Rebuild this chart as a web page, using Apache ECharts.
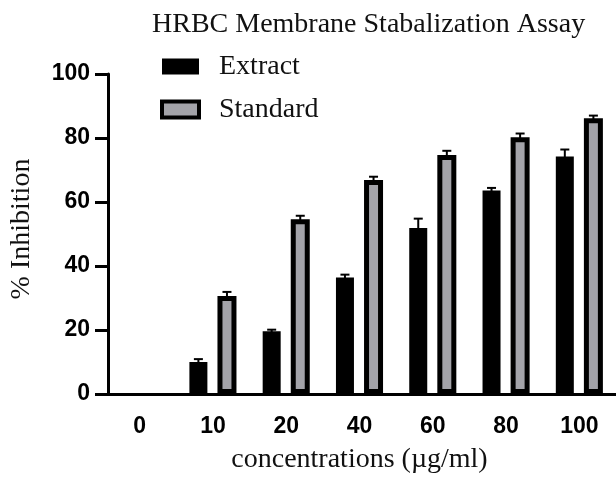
<!DOCTYPE html>
<html>
<head>
<meta charset="utf-8">
<script src="https://cdn.jsdelivr.net/npm/echarts@6/dist/echarts.min.js"></script>
<style>
  html, body { margin: 0; padding: 0; background: #fff; }
  #chart { width: 616px; height: 479px; }
</style>
</head>
<body>
<div id="chart"></div>
<script>
// data
var categories = ['0', '10', '20', '40', '60', '80', '100'];
var extract = [0, 10.0, 19.6, 36.4, 51.9, 63.6, 74.2];
var extractErr = [0, 0.9, 0.5, 0.9, 2.9, 0.8, 2.2];
var standard = [0, 30.6, 54.6, 66.9, 74.7, 80.2, 86.2];
var standardErr = [0, 1.3, 1.1, 1.0, 1.3, 1.2, 0.8];
var yTicks = [0, 20, 40, 60, 80, 100];

var chartDom = document.getElementById('chart');
var myChart = echarts.init(chartDom);

// bar geometry (px)
var extractWidth = 18;
var standardWidth = 19;
var barGap = 0.56;
var totalW = extractWidth * (1 + barGap) + standardWidth;
var extractOffset = -totalW / 2 + extractWidth / 2;
var standardOffset = -totalW / 2 + extractWidth * (1 + barGap) + standardWidth / 2;

function errorSeries(name, values, errs, dx) {
  return {
    name: name,
    type: 'custom',
    z: 1,
    silent: true,
    encode: { x: 0, y: 1 },
    data: values.map(function (v, i) { return [i, v, errs[i]]; }),
    renderItem: function (params, api) {
      var err = api.value(2);
      if (!err) return null;
      var p0 = api.coord([api.value(0), api.value(1)]);
      var p1 = api.coord([api.value(0), api.value(1) + err]);
      var x = p0[0] + dx;
      var half = 4.5;
      return {
        type: 'group',
        children: [
          { type: 'line', shape: { x1: x, y1: p0[1] + 3, x2: x, y2: p1[1] }, style: { stroke: '#000', lineWidth: 2 } },
          { type: 'line', shape: { x1: x - half, y1: p1[1], x2: x + half, y2: p1[1] }, style: { stroke: '#000', lineWidth: 2 } }
        ]
      };
    }
  };
}

var option = {
  backgroundColor: '#fff',
  animation: false,
  title: {
    text: 'HRBC Membrane Stabalization Assay',
    left: 147,
    top: 6,
    textStyle: { fontFamily: 'Liberation Serif', fontSize: 28, fontWeight: 'normal', color: '#111' }
  },
  legend: {
    orient: 'vertical',
    left: 155,
    top: 47,
    itemWidth: 37,
    itemHeight: 16,
    itemGap: 14,
    textStyle: { fontFamily: 'Liberation Serif', fontSize: 28, color: '#111', lineHeight: 29, padding: [0, 0, 0, 15] },
    data: [
      { name: 'Extract', icon: 'rect', itemStyle: { color: '#000', borderWidth: 0 } },
      { name: 'Standard', icon: 'rect', itemStyle: { color: '#a3a3a9', borderColor: '#000', borderWidth: 4 } }
    ]
  },
  grid: {
    left: 103,
    right: -8,
    top: 74,
    bottom: 85
  },
  xAxis: {
    type: 'category',
    data: categories,
    boundaryGap: true,
    name: 'concentrations (µg/ml)',
    nameLocation: 'middle',
    nameGap: 52,
    nameTextStyle: { fontFamily: 'Liberation Serif', fontSize: 28, color: '#111' },
    axisLine: { lineStyle: { color: '#000', width: 3 } },
    axisTick: { alignWithLabel: true, length: 13, lineStyle: { color: '#000', width: 3 } },
    axisLabel: { fontFamily: 'Liberation Sans', fontWeight: 'bold', fontSize: 23, color: '#000', margin: 21 },
    splitLine: { show: false }
  },
  yAxis: {
    type: 'value',
    min: yTicks[0],
    max: yTicks[yTicks.length - 1],
    interval: yTicks[1] - yTicks[0],
    offset: -5,
    name: '% Inhibition',
    nameLocation: 'middle',
    nameGap: 72,
    nameRotate: 90,
    nameTextStyle: { fontFamily: 'Liberation Serif', fontSize: 28, color: '#111', padding: [0, 0, 0, 10] },
    axisLine: { show: true, lineStyle: { color: '#000', width: 3 } },
    axisTick: { show: true, length: 13, lineStyle: { color: '#000', width: 3 } },
    axisLabel: { fontFamily: 'Liberation Sans', fontWeight: 'bold', fontSize: 23, color: '#000', margin: 18 },
    splitLine: { show: false }
  },
  series: [
    {
      name: 'Extract',
      type: 'bar',
      z: 2,
      barWidth: extractWidth,
      barGap: (barGap * 100) + '%',
      itemStyle: { color: '#000' },
      data: extract
    },
    {
      name: 'Standard',
      type: 'bar',
      z: 2,
      barWidth: standardWidth,
      itemStyle: { color: '#a3a3a9', borderColor: '#000', borderWidth: 5 },
      data: standard.map(function (v) {
        return v === 0 ? { value: 0, itemStyle: { borderWidth: 0 } } : v;
      })
    },
    errorSeries('Extract error', extract, extractErr, extractOffset),
    errorSeries('Standard error', standard, standardErr, standardOffset)
  ]
};

option && myChart.setOption(option);
</script>
</body>
</html>
